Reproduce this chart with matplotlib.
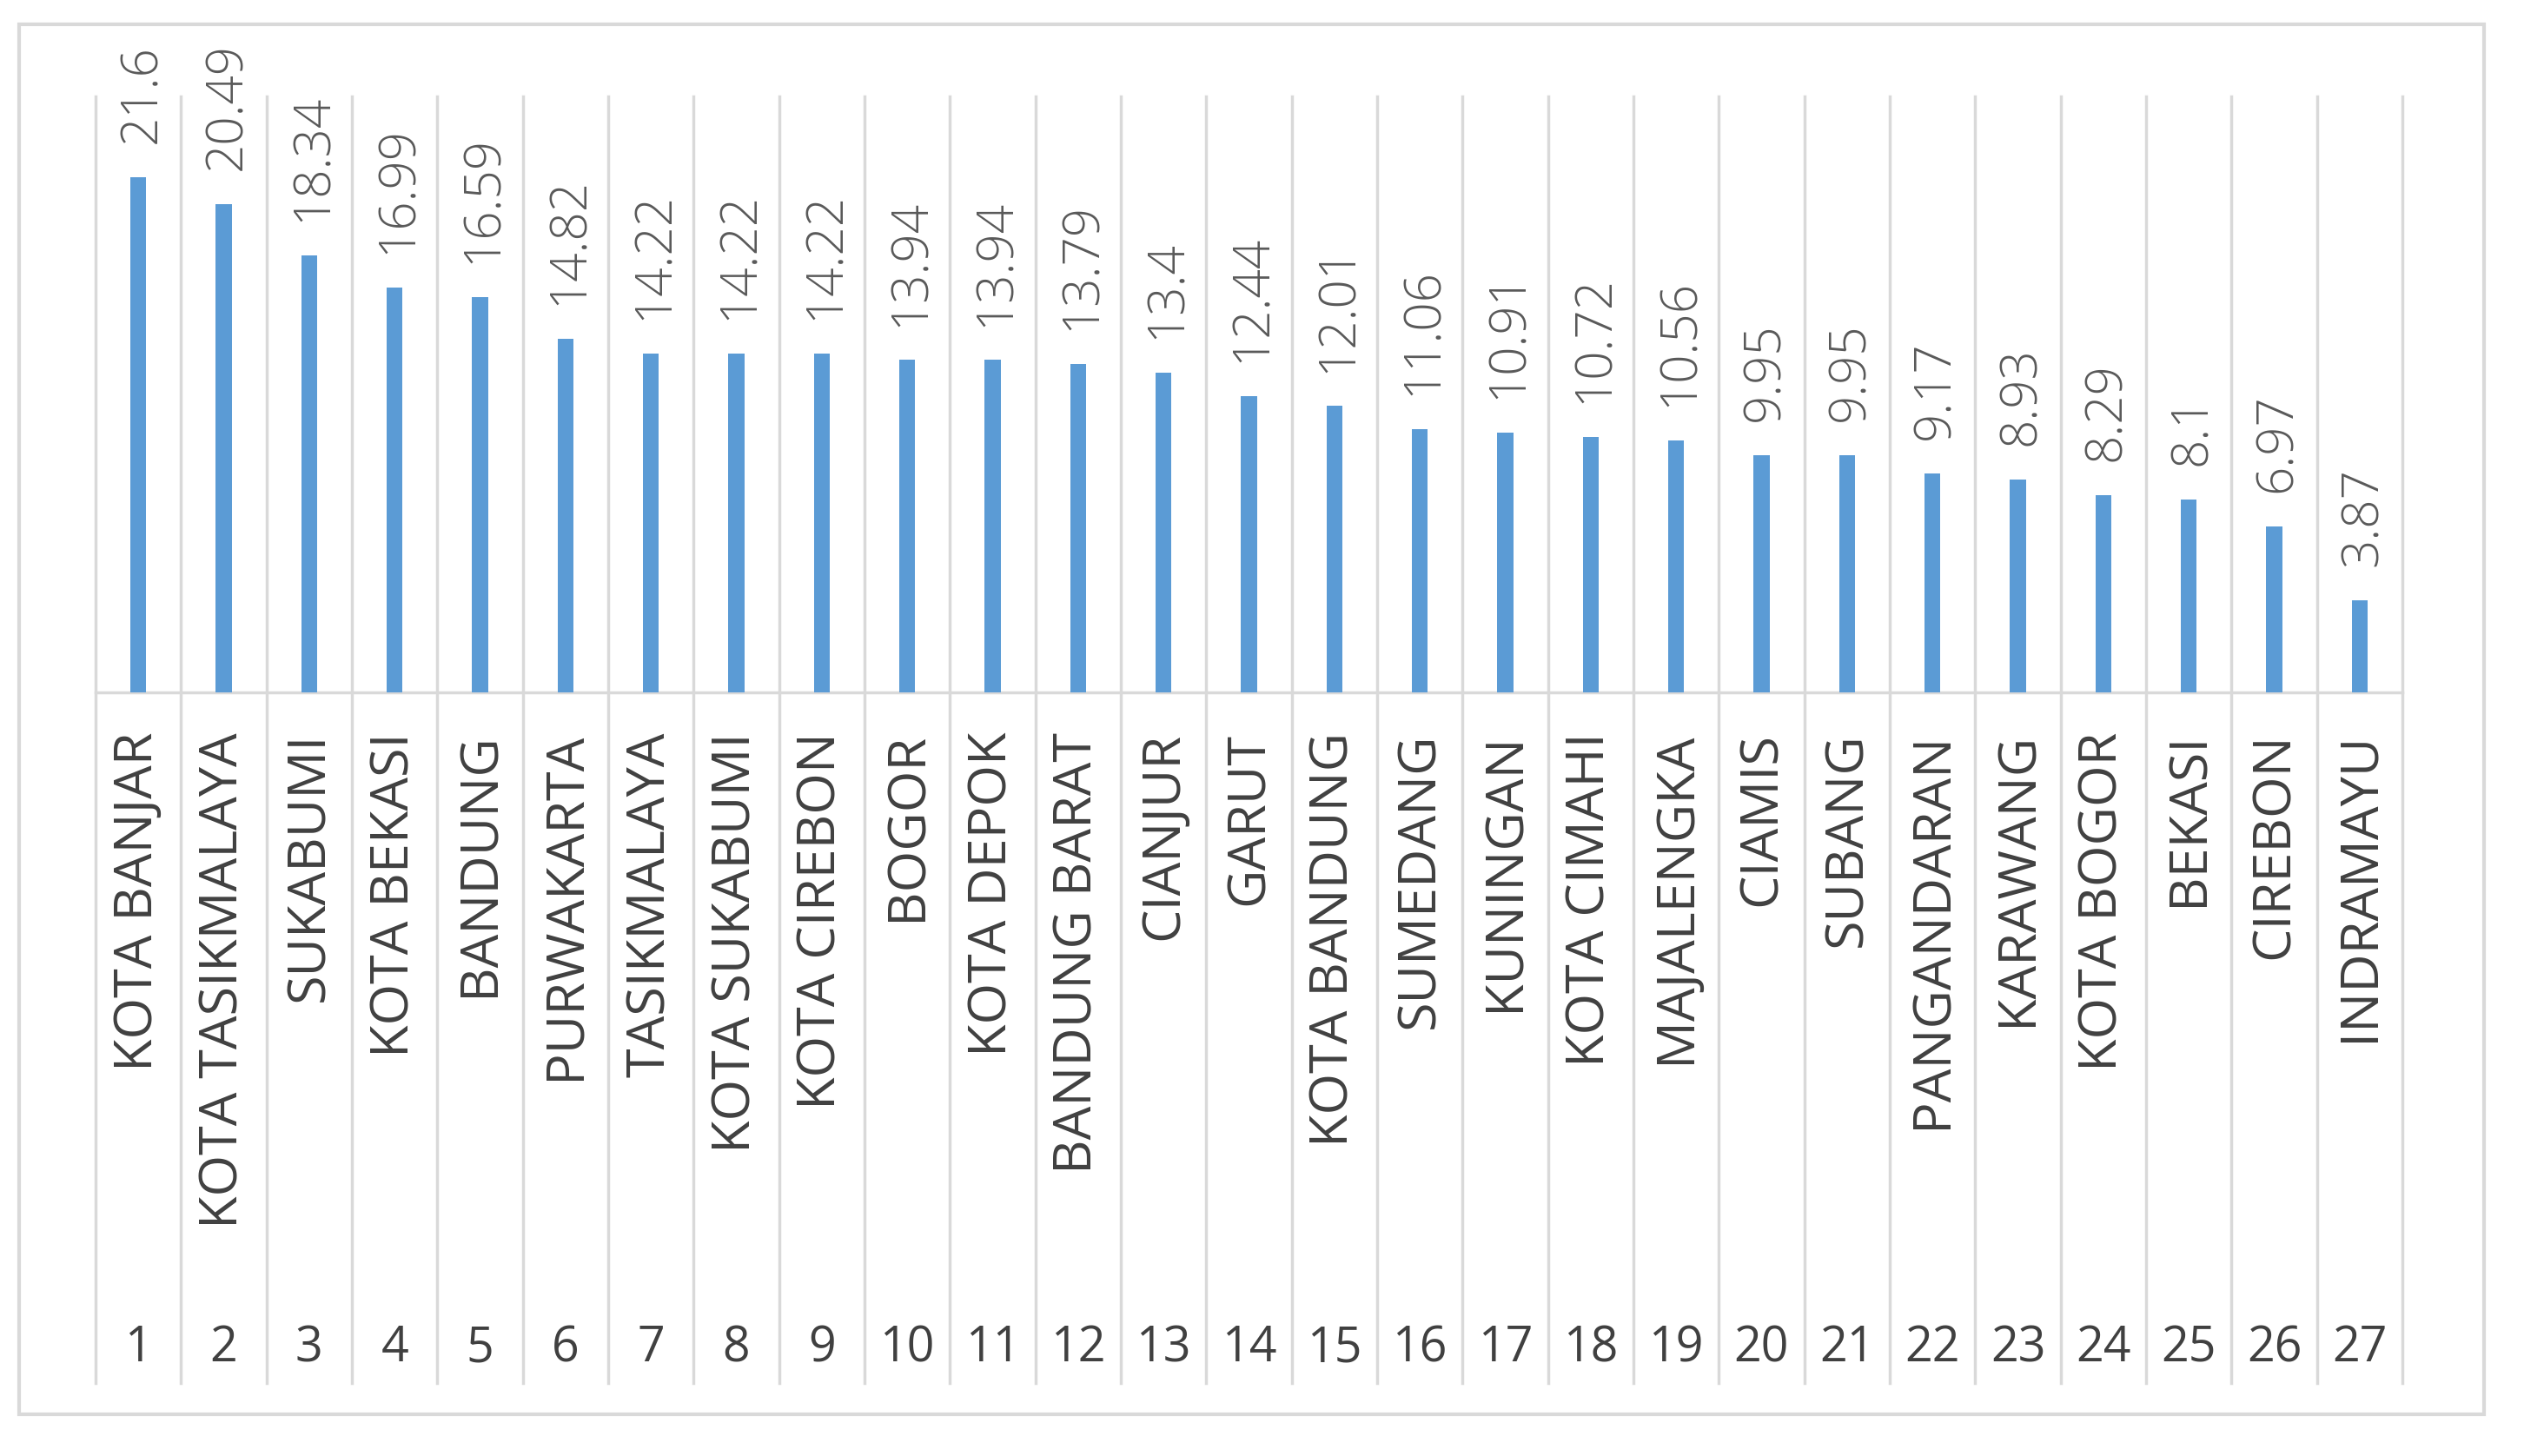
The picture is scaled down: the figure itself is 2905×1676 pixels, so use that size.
import matplotlib
matplotlib.use("Agg")
import matplotlib.pyplot as plt
from matplotlib.patches import Rectangle

names = ["KOTA BANJAR", "KOTA TASIKMALAYA", "SUKABUMI", "KOTA BEKASI", "BANDUNG",
         "PURWAKARTA", "TASIKMALAYA", "KOTA SUKABUMI", "KOTA CIREBON", "BOGOR",
         "KOTA DEPOK", "BANDUNG BARAT", "CIANJUR", "GARUT", "KOTA BANDUNG",
         "SUMEDANG", "KUNINGAN", "KOTA CIMAHI", "MAJALENGKA", "CIAMIS",
         "SUBANG", "PANGANDARAN", "KARAWANG", "KOTA BOGOR", "BEKASI",
         "CIREBON", "INDRAMAYU"]
ranks = [str(i) for i in range(1, 28)]
values = [21.6, 20.49, 18.34, 16.99, 16.59, 14.82, 14.22, 14.22, 14.22, 13.94,
          13.94, 13.79, 13.4, 12.44, 12.01, 11.06, 10.91, 10.72, 10.56, 9.95,
          9.95, 9.17, 8.93, 8.29, 8.1, 6.97, 3.87]

plt.rcParams['font.family'] = ['Open Sans', 'DejaVu Sans']

W, H = 2905, 1676
fig = plt.figure(figsize=(W / 100, H / 100), dpi=100)

# plot area in pixels
x0, x1 = 110, 2765
ytop, ybase, ylab = 111, 797, 1592
ax = fig.add_axes([x0 / W, 1 - ybase / H, (x1 - x0) / W, (ybase - ytop) / H])

grid = "#D9D9D9"
xs = [i + 0.5 for i in range(len(values))]
ax.bar(xs, values, width=0.185, color="#5B9BD5", zorder=3)

ax.set_xlim(0, len(values))
ax.set_ylim(0, 25)
for s in ["top", "left", "right"]:
    ax.spines[s].set_visible(False)
ax.spines["bottom"].set_color(grid)
ax.spines["bottom"].set_linewidth(2.5)
ax.set_xticks([])
ax.set_yticks([])

lab_frac = (ylab - ybase) / (ybase - ytop)
for b in range(len(values) + 1):
    ax.axvline(b, ymin=-lab_frac, ymax=1, color=grid, lw=2.5, clip_on=False, zorder=1)

tr = ax.get_xaxis_transform()
for x, v in zip(xs, values):
    ax.annotate(f"{v:g}", (x, v), xytext=(3, 28), textcoords="offset points",
                rotation=90, ha="center", va="bottom", fontsize=42,
                fontweight="light", color="#595959")

for x, n, r in zip(xs, names, ranks):
    ax.text(x, -0.067, n, transform=tr, rotation=90, ha="center", va="top",
            fontsize=44, color="#404040")
    ax.text(x, -1.102, r, transform=tr, ha="center", va="center",
            fontsize=40, color="#404040")

fig.patches.append(Rectangle((22 / W, 1 - 1628 / H), (2859 - 22) / W, (1628 - 28) / H,
                             transform=fig.transFigure, fill=False,
                             edgecolor=grid, lw=3))

fig.savefig("out.png", dpi=100, facecolor="white")
